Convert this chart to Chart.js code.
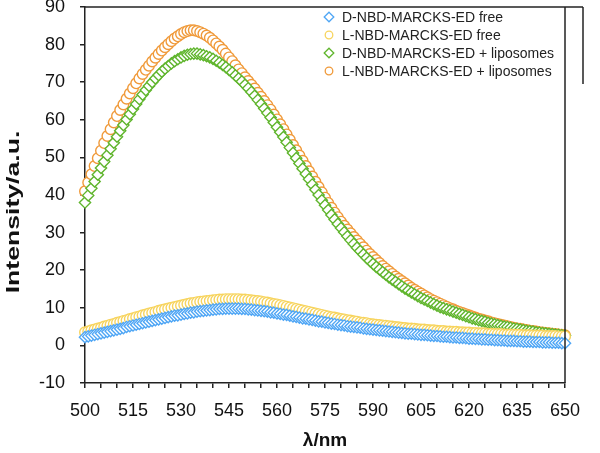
<!DOCTYPE html>
<html>
<head>
<meta charset="utf-8">
<script src="https://cdn.jsdelivr.net/npm/chart.js@4/dist/chart.umd.min.js"></script>
<style>
  html, body { margin: 0; padding: 0; background: #fff; }
  canvas { display: block; }
</style>
</head>
<body>
<canvas id="c" width="600" height="453"></canvas>
<script>
// wavelength (nm), one reading per nm
var wavelength = [
  500,501,502,503,504,505,506,507,508,509,510,511,512,513,514,515,516,517,518,519,
  520,521,522,523,524,525,526,527,528,529,530,531,532,533,534,535,536,537,538,539,
  540,541,542,543,544,545,546,547,548,549,550,551,552,553,554,555,556,557,558,559,
  560,561,562,563,564,565,566,567,568,569,570,571,572,573,574,575,576,577,578,579,
  580,581,582,583,584,585,586,587,588,589,590,591,592,593,594,595,596,597,598,599,
  600,601,602,603,604,605,606,607,608,609,610,611,612,613,614,615,616,617,618,619,
  620,621,622,623,624,625,626,627,628,629,630,631,632,633,634,635,636,637,638,639,
  640,641,642,643,644,645,646,647,648,649,650
];

var dFree = [
  2.2,2.4,2.6,2.8,3.0,3.2,3.4,3.6,3.8,4.0,4.2,4.4,4.6,4.9,5.1,5.3,5.5,5.7,5.9,6.1,
  6.3,6.5,6.7,6.9,7.1,7.3,7.5,7.7,7.9,8.0,8.2,8.4,8.5,8.7,8.8,9.0,9.1,9.2,9.3,9.4,
  9.5,9.6,9.7,9.7,9.8,9.8,9.8,9.8,9.8,9.7,9.7,9.6,9.5,9.4,9.3,9.2,9.1,9.0,8.8,8.7,
  8.5,8.4,8.2,8.1,7.9,7.7,7.6,7.4,7.2,7.1,6.9,6.8,6.6,6.4,6.3,6.1,6.0,5.8,5.7,5.5,
  5.4,5.3,5.1,5.0,4.9,4.8,4.7,4.5,4.4,4.3,4.2,4.1,4.0,3.9,3.8,3.7,3.6,3.5,3.4,3.3,
  3.2,3.1,3.1,3.0,2.9,2.8,2.8,2.7,2.6,2.5,2.5,2.4,2.3,2.3,2.2,2.1,2.1,2.0,2.0,1.9,
  1.8,1.8,1.7,1.7,1.6,1.6,1.5,1.5,1.4,1.4,1.3,1.3,1.2,1.2,1.2,1.1,1.1,1.0,1.0,1.0,
  0.9,0.9,0.9,0.8,0.8,0.8,0.7,0.7,0.7,0.6,0.6
];

var lFree = [
  3.5,3.7,4.0,4.2,4.5,4.7,5.0,5.2,5.5,5.7,6.0,6.2,6.5,6.7,7.0,7.2,7.5,7.7,8.0,8.2,
  8.5,8.7,8.9,9.2,9.4,9.6,9.8,10.0,10.2,10.4,10.6,10.8,11.0,11.2,11.3,11.5,11.6,11.7,11.8,11.9,
  12.0,12.1,12.2,12.2,12.3,12.3,12.3,12.3,12.3,12.2,12.2,12.1,12.0,11.9,11.8,11.7,11.5,11.4,11.2,11.0,
  10.9,10.7,10.5,10.3,10.1,9.9,9.7,9.5,9.3,9.1,8.9,8.7,8.5,8.3,8.1,7.9,7.7,7.5,7.4,7.2,
  7.0,6.9,6.7,6.6,6.4,6.3,6.1,6.0,5.9,5.7,5.6,5.5,5.4,5.3,5.2,5.1,5.0,4.9,4.8,4.7,
  4.6,4.5,4.5,4.4,4.3,4.2,4.2,4.1,4.0,4.0,3.9,3.8,3.8,3.7,3.7,3.6,3.6,3.5,3.5,3.4,
  3.4,3.3,3.3,3.2,3.2,3.2,3.1,3.1,3.0,3.0,3.0,2.9,2.9,2.9,2.8,2.8,2.8,2.7,2.7,2.7,
  2.6,2.6,2.6,2.6,2.5,2.5,2.5,2.5,2.4,2.4,2.4
];

var dLipo = [
  38.0,39.9,41.8,43.6,45.4,47.2,48.9,50.6,52.3,53.9,55.5,57.1,58.6,60.1,61.5,62.9,64.2,65.5,66.7,67.9,
  69.0,70.0,71.0,71.9,72.8,73.6,74.3,75.0,75.6,76.1,76.6,77.0,77.3,77.5,77.6,77.6,77.4,77.2,76.9,76.6,
  76.2,75.7,75.2,74.6,74.0,73.3,72.6,71.8,71.0,70.2,69.3,68.4,67.4,66.4,65.3,64.2,63.0,61.8,60.6,59.3,
  58.0,56.7,55.4,54.0,52.6,51.2,49.8,48.4,47.0,45.6,44.2,42.8,41.4,40.0,38.6,37.3,36.0,34.7,33.5,32.3,
  31.2,30.1,29.0,28.0,27.0,26.0,25.1,24.2,23.3,22.5,21.7,20.9,20.2,19.5,18.8,18.1,17.5,16.9,16.3,15.7,
  15.1,14.6,14.1,13.6,13.1,12.6,12.2,11.8,11.4,11.0,10.6,10.2,9.9,9.6,9.3,9.0,8.7,8.4,8.1,7.8,
  7.5,7.2,7.0,6.7,6.5,6.3,6.0,5.8,5.6,5.4,5.2,5.0,4.9,4.7,4.5,4.4,4.2,4.1,3.9,3.8,
  3.7,3.5,3.4,3.3,3.2,3.1,3.0,2.9,2.8,2.7,2.6
];

var lLipo = [
  41.0,43.3,45.5,47.7,49.8,51.8,53.8,55.7,57.5,59.3,61.0,62.6,64.1,65.6,67.0,68.4,69.7,71.0,72.2,73.3,
  74.4,75.5,76.5,77.5,78.4,79.3,80.1,80.9,81.6,82.2,82.8,83.3,83.6,83.8,83.8,83.6,83.3,82.9,82.4,81.8,
  81.1,80.3,79.5,78.6,77.6,76.6,75.6,74.5,73.4,72.4,71.3,70.3,69.3,68.3,67.2,66.1,65.0,63.9,62.7,61.4,
  60.1,58.8,57.5,56.1,54.7,53.3,51.9,50.5,49.1,47.7,46.3,44.9,43.5,42.1,40.7,39.3,37.9,36.6,35.3,34.1,
  32.9,31.8,30.8,29.8,28.8,27.9,27.0,26.1,25.2,24.3,23.5,22.7,21.9,21.1,20.4,19.7,19.0,18.3,17.7,17.1,
  16.5,15.9,15.3,14.8,14.3,13.8,13.3,12.8,12.3,11.9,11.5,11.1,10.7,10.3,9.9,9.6,9.2,8.9,8.6,8.3,
  8.0,7.7,7.4,7.1,6.9,6.6,6.4,6.1,5.9,5.7,5.5,5.3,5.1,4.9,4.7,4.5,4.4,4.2,4.1,3.9,
  3.8,3.7,3.5,3.4,3.3,3.2,3.1,3.0,2.9,2.8,2.7
];

var seriesNames = [
  'D-NBD-MARCKS-ED free',
  'L-NBD-MARCKS-ED free',
  'D-NBD-MARCKS-ED + liposomes',
  'L-NBD-MARCKS-ED + liposomes'
];
var seriesValues = [dFree, lFree, dLipo, lLipo];
var seriesColors = ['#4fa6f5', '#f7d45e', '#5fb52c', '#f09a3a'];
var seriesShapes = ['rectRot', 'circle', 'rectRot', 'circle'];

function pts(vals) {
  return wavelength.map(function (w, i) { return { x: w, y: vals[i] }; });
}

var datasets = seriesNames.map(function (name, k) {
  return {
    label: name,
    data: pts(seriesValues[k]),
    showLine: false,
    pointStyle: seriesShapes[k],
    pointRadius: seriesShapes[k] === 'rectRot' ? 5.6 : 5.3,
    pointBorderWidth: 1.4,
    pointBorderColor: seriesColors[k],
    pointBackgroundColor: '#fff',
    borderColor: seriesColors[k],
    backgroundColor: '#fff',
    clip: false
  };
});

function seg(ctx, x1, y1, x2, y2) {
  ctx.beginPath();
  ctx.moveTo(x1, y1);
  ctx.lineTo(x2, y2);
  ctx.stroke();
}

// frame, legend and axis titles
var decor = {
  id: 'decor',
  afterDraw: function (chart) {
    var ctx = chart.ctx, a = chart.chartArea;
    ctx.save();
    ctx.strokeStyle = '#222';
    ctx.lineWidth = 1.5;
    seg(ctx, a.left, a.top, 583, a.top);
    seg(ctx, a.right, a.top, a.right, a.bottom);
    seg(ctx, 583, a.top, 583, 84);

    // legend
    ctx.font = '14px "Liberation Sans", Arial, sans-serif';
    ctx.textBaseline = 'middle';
    ctx.textAlign = 'left';
    for (var k = 0; k < seriesNames.length; k++) {
      var y = 17 + k * 18, x = 329;
      ctx.strokeStyle = seriesColors[k];
      ctx.lineWidth = 1.3;
      ctx.beginPath();
      if (seriesShapes[k] === 'circle') {
        ctx.arc(x, y, 3.8, 0, Math.PI * 2);
      } else {
        ctx.moveTo(x, y - 4.8); ctx.lineTo(x + 4.8, y);
        ctx.lineTo(x, y + 4.8); ctx.lineTo(x - 4.8, y); ctx.closePath();
      }
      ctx.stroke();
      ctx.fillStyle = '#222';
      ctx.fillText(seriesNames[k], 342, y + 1);
    }

    // axis titles
    ctx.fillStyle = '#111';
    ctx.textAlign = 'center';
    ctx.font = 'bold 19px "Liberation Sans", Arial, sans-serif';
    ctx.fillText('\u03bb/nm', (a.left + a.right) / 2, 441);
    ctx.translate(14, 212);
    ctx.rotate(-Math.PI / 2);
    ctx.scale(1.4, 1);
    ctx.fillText('Intensity/a.u.', 0, 0);
    ctx.restore();
  }
};

var tickFont = { family: '"Liberation Sans", Arial, sans-serif', size: 18 };

new Chart(document.getElementById('c'), {
  type: 'scatter',
  data: { datasets: datasets },
  options: {
    responsive: false,
    animation: false,
    devicePixelRatio: 1,
    layout: { padding: { top: 6, right: 35, left: 0, bottom: 0 } },
    plugins: { legend: { display: false }, tooltip: { enabled: false } },
    scales: {
      x: {
        type: 'linear',
        min: 500, max: 650,
        afterFit: function (s) { s.height = 70; s.paddingLeft = 0; s.paddingRight = 0; },
        grid: { drawOnChartArea: false, drawTicks: true, tickLength: 5, color: '#222', lineWidth: 1.5 },
        border: { color: '#222', width: 1.5 },
        ticks: {
          stepSize: 5, padding: 12, color: '#111', font: tickFont, maxRotation: 0, autoSkip: false,
          callback: function (v) { return (v - 500) % 15 === 0 ? String(v) : ''; }
        }
      },
      y: {
        min: -10, max: 90,
        afterFit: function (s) { s.width = 85; s.paddingTop = 0; s.paddingBottom = 0; },
        grid: { drawOnChartArea: false, drawTicks: true, tickLength: 5, color: '#222', lineWidth: 1.5 },
        border: { color: '#222', width: 1.5 },
        ticks: { stepSize: 10, padding: 15, color: '#111', font: tickFont }
      }
    }
  },
  plugins: [decor]
});
</script>
</body>
</html>
